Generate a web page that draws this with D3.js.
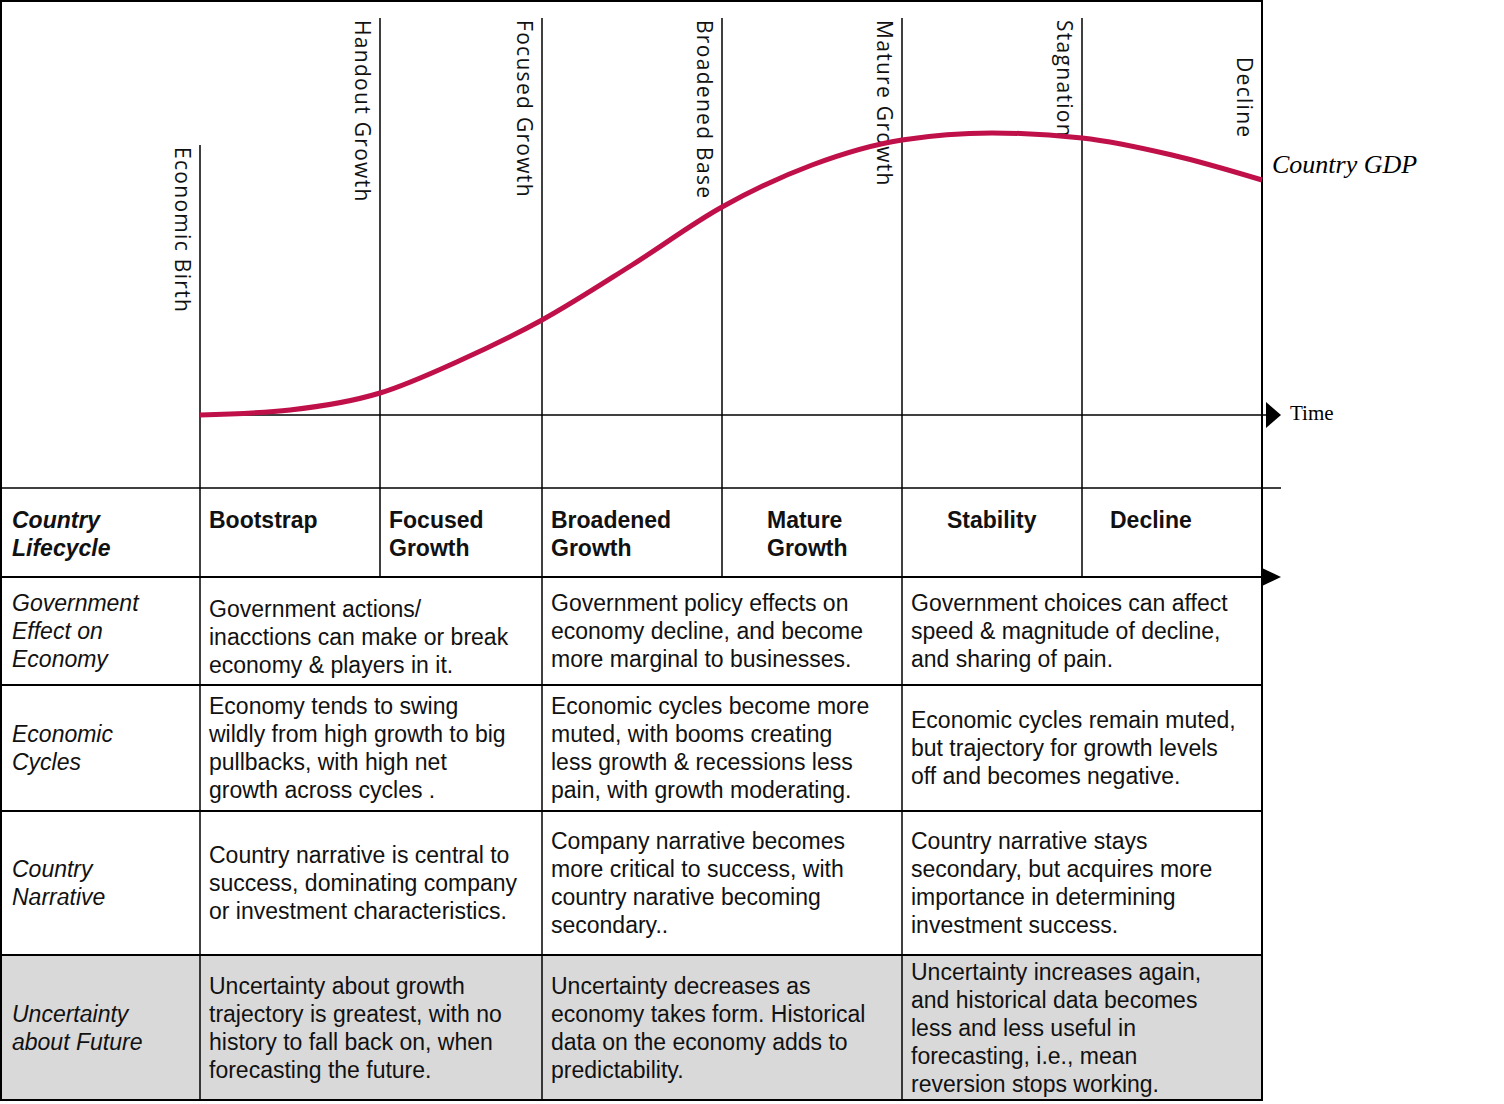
<!DOCTYPE html>
<html><head><meta charset="utf-8">
<script src="https://cdn.jsdelivr.net/npm/d3@7"></script>
<style>body{margin:0;background:#fff}</style>
</head><body>
<script>
// stage boundaries on the time axis
var stageT = [0, 10, 19, 29, 39, 49, 59];
var stageLabels = ["Economic Birth", "Handout Growth", "Focused Growth", "Broadened Base", "Mature Growth", "Stagnation", "Decline"];
// GDP curve samples
var gdpT = [0, 5, 10, 14.5, 19, 24, 29, 34, 39, 44, 49, 54, 59];
var gdpV = [0, 5, 22, 55, 95, 150, 208, 250, 275, 282, 277, 260, 235];
var headers = [["Bootstrap"], ["Focused", "Growth"], ["Broadened", "Growth"], ["Mature", "Growth"], ["Stability"], ["Decline"]];
var rowLabels = [["Government", "Effect on", "Economy"], ["Economic", "Cycles"], ["Country", "Narrative"], ["Uncertainty", "about Future"]];
var cells = [
  [["Government actions/", "inacctions can make or break", "economy & players in it."],
   ["Government policy effects on", "economy decline, and become", "more marginal to businesses."],
   ["Government choices can affect", "speed & magnitude of decline,", "and sharing of pain."]],
  [["Economy tends to swing", "wildly from high growth to big", "pullbacks, with high net", "growth across cycles ."],
   ["Economic cycles become more", "muted, with booms creating", "less growth & recessions less", "pain, with growth moderating."],
   ["Economic cycles remain muted,", "but trajectory for growth levels", "off and becomes negative."]],
  [["Country narrative is central to", "success, dominating company", "or investment characteristics."],
   ["Company narrative becomes", "more critical to success, with", "country narative becoming", "secondary.."],
   ["Country narrative stays", "secondary, but acquires more", "importance in determining", "investment success."]],
  [["Uncertainty about growth", "trajectory is greatest, with no", "history to fall back on, when", "forecasting the future."],
   ["Uncertainty decreases as", "economy takes form. Historical", "data on the economy adds to", "predictability."],
   ["Uncertainty increases again,", "and historical data becomes", "less and less useful in", "forecasting, i.e., mean", "reversion stops working."]]
];
var rowEdges = [577, 685, 811, 955, 1100];

var svg = d3.select("body").append("svg").attr("width", 1504).attr("height", 1104);
var x = d3.scaleLinear().domain([0, 59]).range([200, 1262]);
var y = d3.scaleLinear().domain([0, 300]).range([415, 115]);
var sans = "'Liberation Sans', Arial, sans-serif";

// grey last row
svg.append("rect").attr("x", 0).attr("y", rowEdges[3]).attr("width", 1262).attr("height", rowEdges[4] - rowEdges[3]).attr("fill", "#d9d9d9");

// border
svg.append("rect").attr("x", 1).attr("y", 1).attr("width", 1261).attr("height", 1099).attr("fill", "none").attr("stroke", "#000").attr("stroke-width", 2);

// stage lines
svg.selectAll("line.stage").data(d3.range(6)).enter().append("line")
  .attr("x1", i => x(stageT[i])).attr("x2", i => x(stageT[i]))
  .attr("y1", i => i === 0 ? 145 : 18)
  .attr("y2", i => i % 2 === 0 ? 1100 : 577)
  .attr("stroke", "#000").attr("stroke-width", 1.5);

// stage labels, rotated
svg.selectAll("text.stage").data(d3.range(7)).enter().append("text")
  .attr("transform", i => "translate(" + (x(stageT[i]) - 25) + "," + (i === 0 ? 147 : i === 6 ? 57 : 20) + ") rotate(90)")
  .attr("font-family", "'Open Sans', sans-serif").attr("font-weight", 400).attr("font-size", 21)
  .attr("letter-spacing", 1.3).attr("fill", "#111")
  .text(i => stageLabels[i]);

// time axis
svg.append("line").attr("x1", 200).attr("x2", 1268).attr("y1", y(0)).attr("y2", y(0)).attr("stroke", "#000").attr("stroke-width", 1.5);
svg.append("path").attr("d", "M1266," + (y(0) - 13) + "L1281," + y(0) + "L1266," + (y(0) + 13) + "Z").attr("fill", "#000");
svg.append("text").attr("x", 1290).attr("y", y(0) + 5).attr("font-family", "'Liberation Serif', serif").attr("font-size", 21).text("Time");

// GDP curve
svg.append("path").datum(d3.range(gdpT.length))
  .attr("d", d3.line().x(i => x(gdpT[i])).y(i => y(gdpV[i])).curve(d3.curveMonotoneX))
  .attr("fill", "none").attr("stroke", "#c0104a").attr("stroke-width", 5);
svg.append("text").attr("x", 1272).attr("y", 173).attr("font-family", "'Liberation Serif', serif")
  .attr("font-style", "italic").attr("font-size", 26).text("Country GDP");

// table horizontal lines
svg.append("line").attr("x1", 0).attr("x2", 1281).attr("y1", 488).attr("y2", 488).attr("stroke", "#000").attr("stroke-width", 1.5);
svg.append("line").attr("x1", 0).attr("x2", 1266).attr("y1", 577).attr("y2", 577).attr("stroke", "#000").attr("stroke-width", 2);
svg.append("path").attr("d", "M1262,568L1281,577L1262,586Z").attr("fill", "#000");
svg.selectAll("line.row").data(rowEdges.slice(1, 4)).enter().append("line")
  .attr("x1", 0).attr("x2", 1262).attr("y1", d => d).attr("y2", d => d).attr("stroke", "#000").attr("stroke-width", 2);

function lines(g, arr, x0, yc, opts) {
  var t = g.append("text").attr("font-family", sans).attr("font-size", 23).attr("fill", "#111");
  if (opts.bold) t.attr("font-weight", "bold");
  if (opts.italic) t.attr("font-style", "italic");
  var y0 = yc - (arr.length - 1) * 14 + 8;
  arr.forEach((s, i) => t.append("tspan").attr("x", x0).attr("y", y0 + i * 28).text(s));
}

// header row
lines(svg, ["Country", "Lifecycle"], 12, 534, {bold: true, italic: true});
var hx = [209, 389, 551, 767, 947, 1110];
headers.forEach((h, i) => lines(svg, h, hx[i], h.length === 1 ? 520 : 534, {bold: true}));

// body rows
var cx = [209, 551, 911];
rowLabels.forEach((r, i) => {
  var yc = (rowEdges[i] + rowEdges[i + 1]) / 2;
  lines(svg, r, 12, yc, {italic: true});
  cells[i].forEach((c, j) => lines(svg, c, cx[j], yc + (i === 0 && j === 0 ? 6 : 0), {}));
});
</script>
</body></html>
